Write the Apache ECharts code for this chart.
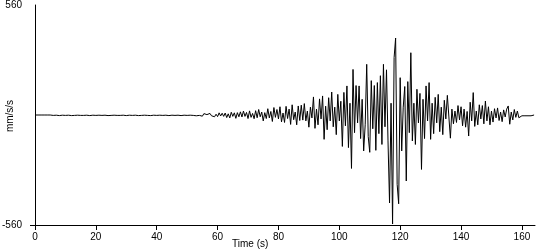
<!DOCTYPE html>
<html>
<head>
<meta charset="utf-8">
<script src="https://cdn.jsdelivr.net/npm/echarts@6/dist/echarts.min.js"></script>
<style>
html,body{margin:0;padding:0;background:#fff;}
#chart{width:550px;height:250px;}
</style>
</head>
<body>
<div id="chart"></div>
<script>
// Sampled acceleration trace (mm/s/s)
const quietStart = 0, quietStep = 1;      // t = 0 .. 52 s
const quietValues = [
  0,0,0,0,0,0,
  -2,-1,-3,-1,-2,-1,-3,-2,-1,-2,
  -2,-1,-3,-1,-2,-1,-2,-1,-3,-2,
  -1,-2,-2,-1,-3,-1,-2,-1,-3,-2,
  -1,-2,-3,-1,-2,-1,-2,-1,-3,-1,
  -2,-1,-3,-1,-2,-1,-2
];
const activeStart = 52.5, activeStep = 0.5; // t = 52.5 .. 164 s
const activeValues = [
  3,-4,5,-2,4,-6,7,-3,2,-6,
  8,-4,6,-9,4,-8,11,-5,9,-7,
  10,-13,6,-15,14,-7,11,-17,12,-9,
  16,-10,20,-7,13,-18,21,-12,8,-19,
  22,-14,28,-9,15,-30,12,-18,32,-15,
  18,-33,38,-12,28,-20,42,-35,10,-38,
  44,-18,30,-48,52,-24,15,-50,46,-28,
  50,-26,58,-30,20,-62,40,-15,92,-68,
  30,-50,82,-20,97,-124,45,-75,88,-30,
  117,-60,40,-100,105,-30,70,-160,115,-55,
  148,-166,60,-272,232,-90,150,-40,148,-120,
  80,-183,-50,258,-110,-190,175,-70,150,-180,
  165,-95,200,-150,258,-60,230,-132,-448,60,
  -555,292,392,-353,-452,190,-183,40,145,-336,
  170,-90,317,-132,60,-150,131,-40,110,-277,
  80,-120,148,-30,165,-124,60,-95,90,-40,
  105,-85,40,-100,75,-20,100,-10,-118,30,
  -45,20,-38,48,-25,42,-55,30,-62,18,
  -107,65,-30,114,-58,20,-50,52,-20,48,
  -45,71,-30,42,-50,20,-36,32,-15,36,
  -28,15,-34,26,-10,30,46,-47,15,-25,
  28,-12,20,-14,-5,-4,-4,-4,-4,-4,
  -5,-4,-3,0
];
const xTicks = [0,20,40,60,80,100,120,140,160];
const yTickLabels = [-560,560];
const yTicks = [-560];

const data = quietValues.map((v,i)=>[quietStart + i*quietStep, v])
  .concat(activeValues.map((v,i)=>[activeStart + i*activeStep, v]));

const chart = echarts.init(document.getElementById('chart'), null, {renderer:'canvas'});
const font = 'Liberation Sans, Arial, sans-serif';
chart.setOption({
  animation:false,
  backgroundColor:'#fff',
  grid:{left:35,right:15,top:5,bottom:25,containLabel:false,outerBoundsMode:'none'},
  xAxis:{
    type:'value',min:0,max:164.3,
    axisLine:{show:true,onZero:false,lineStyle:{color:'#000',width:1}},
    axisTick:{show:true,length:5,customValues:xTicks,lineStyle:{color:'#000'}},
    axisLabel:{customValues:xTicks,color:'#000',fontSize:10,fontFamily:font,margin:7},
    splitLine:{show:false}
  },
  yAxis:{
    type:'value',min:-560,max:560,
    axisLine:{show:true,onZero:false,lineStyle:{color:'#000',width:1}},
    axisTick:{show:true,length:5,customValues:yTicks,lineStyle:{color:'#000'}},
    axisLabel:{customValues:yTickLabels,color:'#000',fontSize:10,fontFamily:font,margin:13},
    splitLine:{show:false}
  },
  graphic:[
    {type:'text',left:232,top:239,style:{text:'Time (s)',fill:'#000',font:'10px '+font}},
    {type:'text',x:10,y:116,rotation:Math.PI/2,style:{text:'mm/s/s',fill:'#000',font:'10px '+font,align:'center',verticalAlign:'middle'}}
  ],
  series:[{
    type:'line',data:data,showSymbol:false,sampling:null,
    lineStyle:{color:'#000',width:1},
    emphasis:{disabled:true}
  }]
});
</script>
</body>
</html>
